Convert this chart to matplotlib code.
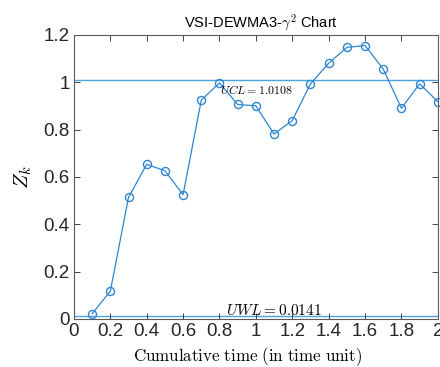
import matplotlib
matplotlib.use("Agg")
import matplotlib.pyplot as plt

# cumulative sampling time and the DEWMA3 statistic
t = [0.1, 0.2, 0.3, 0.4, 0.5, 0.6, 0.7, 0.8, 0.9, 1.0,
     1.1, 1.2, 1.3, 1.4, 1.5, 1.6, 1.7, 1.8, 1.9, 2.0]
zk = [0.022, 0.117, 0.513, 0.653, 0.626, 0.525, 0.924, 0.997, 0.906, 0.900,
      0.781, 0.838, 0.993, 1.080, 1.147, 1.155, 1.056, 0.890, 0.993, 0.918]
ucl = 1.0108
uwl = 0.0141

xticks = [0, 0.2, 0.4, 0.6, 0.8, 1, 1.2, 1.4, 1.6, 1.8, 2]
xticklabels = ["0", "0.2", "0.4", "0.6", "0.8", "1", "1.2", "1.4", "1.6", "1.8", "2"]
yticks = [0, 0.2, 0.4, 0.6, 0.8, 1, 1.2]
yticklabels = ["0", "0.2", "0.4", "0.6", "0.8", "1", "1.2"]

plt.rcParams["font.family"] = ["Liberation Sans", "DejaVu Sans"]
plt.rcParams["mathtext.fontset"] = "cm"

fig = plt.figure(figsize=(4.4, 3.67), dpi=100)
ax = fig.add_axes([0.168, 0.131, 0.827, 0.774])

ax.axhline(ucl, color="#4ba3dd", lw=1.0, zorder=1)
ax.axhline(uwl, color="#4ba3dd", lw=1.0, zorder=1)
ax.plot(t, zk, color="#2f86d0", lw=0.9, marker="o", ms=5.8,
        mfc="none", mec="#2f86d0", mew=1.0, clip_on=False, zorder=3)

ax.text(0.805, 0.963, r"$UCL = 1.0108$", fontsize=8.6, va="center", ha="left")
ax.text(0.835, 0.034, r"$UWL = 0.0141$", fontsize=11, va="center", ha="left")

ax.set_xlim(0, 2)
ax.set_ylim(0, 1.2)
ax.set_xticks(xticks)
ax.set_xticklabels(xticklabels)
ax.set_yticks(yticks)
ax.set_yticklabels(yticklabels)
ax.tick_params(direction="in", length=4, width=0.6, top=True, right=True,
               labelsize=13.5, colors="#262626", pad=3)
for s in ax.spines.values():
    s.set_color("#5a5a5a")
    s.set_linewidth(0.8)

ax.set_title(r"VSI-DEWMA3-$\gamma^2$ Chart", fontsize=10.5, x=0.515, pad=5)
ax.set_xlabel(r"$\mathrm{Cumulative\ time\ (in\ time\ unit)}$", fontsize=12.2)
ax.xaxis.set_label_coords(0.478, -0.092)
ax.set_ylabel(r"$Z_k$", fontsize=15)
ax.yaxis.set_label_coords(-0.11, 0.5)

fig.savefig("out.png", dpi=100)
